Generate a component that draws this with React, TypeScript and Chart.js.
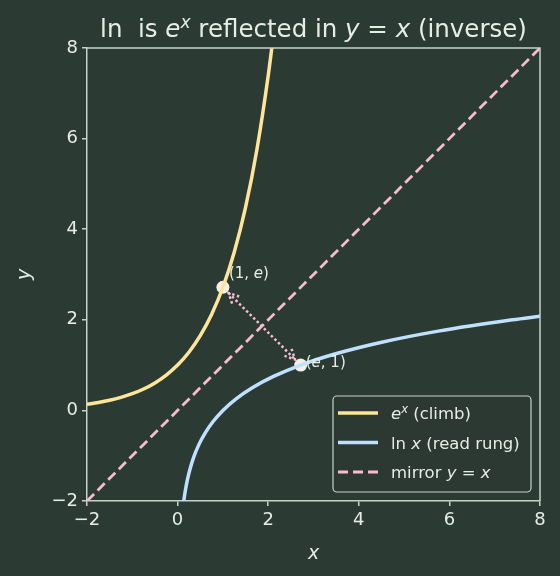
import React, { useEffect, useRef } from "react";
import { Chart, registerables } from "chart.js";

Chart.register(...registerables);

const expX = [-2, -1.75, -1.5, -1.25, -1, -0.75, -0.5, -0.25, 0, 0.25, 0.5, 0.75, 1, 1.25, 1.5, 1.75, 2, 2.1];
const expY = [0.135, 0.174, 0.223, 0.287, 0.368, 0.472, 0.607, 0.779, 1, 1.284, 1.649, 2.117, 2.718, 3.49, 4.482, 5.755, 7.389, 8.166];
const lnX = [0.135, 0.174, 0.223, 0.287, 0.368, 0.472, 0.607, 0.779, 1, 1.284, 1.649, 2.117, 2.718, 3.49, 4.482, 5.755, 7.389, 8];
const lnY = [-2, -1.75, -1.5, -1.25, -1, -0.75, -0.5, -0.25, 0, 0.25, 0.5, 0.75, 1, 1.25, 1.5, 1.75, 2, 2.079];
const mirrorX = [-2, 8];
const mirrorY = [-2, 8];
const markX = [1, 2.718];
const markY = [2.718, 1];
const tickVals = [-2, 0, 2, 4, 6, 8];

const BG = "#2b3a33";
const AX = "#c5d3c9";
const TXT = "#e6ede7";
const YEL = "#ffe59a";
const BLU = "#bfe0ff";
const PNK = "#f7bcd0";
const FONT = "'DejaVu Sans', sans-serif";

type Seg = { t: string; i?: boolean; sup?: boolean };

function drawRich(ctx: CanvasRenderingContext2D, segs: Seg[], x: number, y: number, size: number, align: "left" | "center") {
  const fontOf = (s: Seg) => `${s.i ? "italic " : ""}${s.sup ? size * 0.7 : size}px ${FONT}`;
  let total = 0;
  for (const s of segs) { ctx.font = fontOf(s); total += ctx.measureText(s.t).width; }
  let cx = align === "center" ? x - total / 2 : x;
  ctx.textAlign = "left";
  ctx.textBaseline = "alphabetic";
  for (const s of segs) {
    ctx.font = fontOf(s);
    ctx.fillText(s.t, cx, s.sup ? y - size * 0.38 : y);
    cx += ctx.measureText(s.t).width;
  }
}

const overlay = {
  id: "overlay",
  beforeDraw(chart: any) {
    const { ctx } = chart;
    ctx.save();
    ctx.fillStyle = BG;
    ctx.fillRect(0, 0, chart.width, chart.height);
    ctx.restore();
  },
  afterDatasetsDraw(chart: any) {
    const { ctx, chartArea: a, scales } = chart;
    const xs = scales.x, ys = scales.y;
    ctx.save();
    const p1 = { x: xs.getPixelForValue(markX[0]), y: ys.getPixelForValue(markY[0]) };
    const p2 = { x: xs.getPixelForValue(markX[1]), y: ys.getPixelForValue(markY[1]) };
    const dx = p2.x - p1.x, dy = p2.y - p1.y;
    const L = Math.hypot(dx, dy);
    const ux = dx / L, uy = dy / L;
    const s = 8;
    const a1 = { x: p1.x + ux * s, y: p1.y + uy * s };
    const a2 = { x: p2.x - ux * s, y: p2.y - uy * s };
    ctx.strokeStyle = PNK;
    ctx.lineWidth = 2.5;
    ctx.setLineDash([2.5, 2.5]);
    ctx.beginPath();
    ctx.moveTo(a1.x, a1.y);
    ctx.lineTo(a2.x, a2.y);
    ctx.stroke();
    const head = (p: any, dirx: number, diry: number) => {
      const hl = 10, hw = 5;
      const bx = p.x + dirx * hl, by = p.y + diry * hl;
      ctx.beginPath();
      ctx.moveTo(bx - diry * hw, by + dirx * hw);
      ctx.lineTo(p.x, p.y);
      ctx.lineTo(bx + diry * hw, by - dirx * hw);
      ctx.stroke();
    };
    head(a1, ux, uy);
    head(a2, -ux, -uy);
    ctx.setLineDash([]);
    ctx.restore();

    ctx.save();
    ctx.strokeStyle = AX;
    ctx.lineWidth = 1.5;
    ctx.beginPath();
    ctx.moveTo(a.left, a.top);
    ctx.lineTo(a.right, a.top);
    ctx.lineTo(a.right, a.bottom);
    ctx.stroke();
    ctx.restore();
  },
  afterDraw(chart: any) {
    const { ctx, chartArea: a, scales } = chart;
    const xs = scales.x, ys = scales.y;
    ctx.save();
    ctx.fillStyle = TXT;
    drawRich(ctx, [{ t: "(1, " }, { t: "e", i: true }, { t: ")" }], xs.getPixelForValue(markX[0]) + 6, ys.getPixelForValue(markY[0]) - 9, 15, "left");
    drawRich(ctx, [{ t: "(" }, { t: "e", i: true }, { t: ", 1)" }], xs.getPixelForValue(markX[1]) + 5, ys.getPixelForValue(markY[1]) + 2, 15, "left");
    const cx = (a.left + a.right) / 2;
    drawRich(ctx, [
      { t: "ln  is " }, { t: "e", i: true }, { t: "x", i: true, sup: true },
      { t: " reflected in " }, { t: "y", i: true }, { t: " = " }, { t: "x", i: true }, { t: " (inverse)" },
    ], cx, 37, 24.5, "center");
    drawRich(ctx, [{ t: "x", i: true }], cx, 559, 19, "center");
    ctx.save();
    ctx.translate(30, (a.top + a.bottom) / 2);
    ctx.rotate(-Math.PI / 2);
    drawRich(ctx, [{ t: "y", i: true }], 0, 0, 19, "center");
    ctx.restore();

    const lx = 333, ly = 396, lw = 198, lh = 96, r = 4;
    ctx.beginPath();
    ctx.moveTo(lx + r, ly);
    ctx.arcTo(lx + lw, ly, lx + lw, ly + lh, r);
    ctx.arcTo(lx + lw, ly + lh, lx, ly + lh, r);
    ctx.arcTo(lx, ly + lh, lx, ly, r);
    ctx.arcTo(lx, ly, lx + lw, ly, r);
    ctx.closePath();
    ctx.fillStyle = "rgba(43,58,51,0.85)";
    ctx.fill();
    ctx.strokeStyle = AX;
    ctx.lineWidth = 1.2;
    ctx.stroke();
    const rows = [
      { c: YEL, dash: [] as number[], lw: 3.5, segs: [{ t: "e", i: true }, { t: "x", i: true, sup: true }, { t: " (climb)" }] },
      { c: BLU, dash: [] as number[], lw: 3.5, segs: [{ t: "ln " }, { t: "x", i: true }, { t: " (read rung)" }] },
      { c: PNK, dash: [10, 5], lw: 2.8, segs: [{ t: "mirror " }, { t: "y", i: true }, { t: " = " }, { t: "x", i: true }] },
    ];
    rows.forEach((row, k) => {
      const yy = 413 + k * 29.5;
      ctx.strokeStyle = row.c;
      ctx.lineWidth = row.lw;
      ctx.setLineDash(row.dash);
      ctx.beginPath();
      ctx.moveTo(338, yy);
      ctx.lineTo(378, yy);
      ctx.stroke();
      ctx.setLineDash([]);
      ctx.fillStyle = TXT;
      drawRich(ctx, row.segs as Seg[], 391, yy + 6, 16.5, "left");
    });
    ctx.restore();
  },
};

const pts = (xs: number[], ys: number[]) => xs.map((x, i) => ({ x, y: ys[i] }));

export default function App() {
  const ref = useRef<HTMLCanvasElement>(null);
  useEffect(() => {
    if (!ref.current) return;
    const tickFmt = (v: any) => (v < 0 ? "\u2212" + Math.abs(v) : String(v));
    const axisCommon = (pos: string) => ({
      type: "linear",
      position: pos,
      min: -2,
      max: 8,
      afterBuildTicks: (s: any) => { s.ticks = tickVals.map((v) => ({ value: v })); },
      grid: { display: true, drawOnChartArea: false, drawTicks: true, tickLength: 5, color: AX, lineWidth: 1.5 },
      border: { display: true, color: AX, width: 1.5 },
      ticks: { color: TXT, font: { size: 18, family: FONT }, padding: 4, callback: tickFmt, autoSkip: false, maxRotation: 0 },
    });
    const chart = new Chart(ref.current, {
      type: "scatter",
      data: {
        datasets: [
          { data: pts(mirrorX, mirrorY), showLine: true, borderColor: PNK, borderWidth: 2.8, borderDash: [10, 5], pointRadius: 0 },
          { data: pts(expX, expY), showLine: true, borderColor: YEL, borderWidth: 3.5, pointRadius: 0, cubicInterpolationMode: "monotone" },
          { data: pts(lnX, lnY), showLine: true, borderColor: BLU, borderWidth: 3.5, pointRadius: 0, cubicInterpolationMode: "monotone" },
          { data: pts(markX, markY), showLine: false, pointRadius: 6.5, pointBackgroundColor: "#f4f1e4", pointBorderColor: "#f4f1e4", pointBorderWidth: 0 },
        ],
      } as any,
      options: {
        animation: false,
        responsive: false,
        maintainAspectRatio: false,
        layout: { padding: { left: 0, right: 20, top: 48, bottom: 0 } },
        plugins: { legend: { display: false }, tooltip: { enabled: false }, title: { display: false } },
        scales: {
          x: { ...axisCommon("bottom"), afterFit: (s: any) => { s.height = 75; } },
          y: { ...axisCommon("left"), afterFit: (s: any) => { s.width = 87; } },
        } as any,
      },
      plugins: [overlay],
    });
    return () => chart.destroy();
  }, []);
  return (
    <div style={{ position: "fixed", left: 0, top: 0, width: 560, height: 576, background: BG }}>
      <canvas ref={ref} width={560} height={576} style={{ display: "block", width: 560, height: 576 }} />
    </div>
  );
}
